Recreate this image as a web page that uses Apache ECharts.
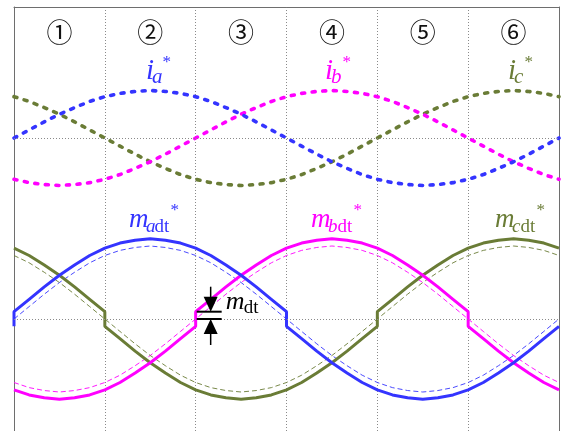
<!DOCTYPE html>
<html>
<head>
<meta charset="utf-8">
<script src="https://cdn.jsdelivr.net/npm/echarts@6/dist/echarts.min.js"></script>
<style>
  html, body { margin: 0; padding: 0; background: #fff; }
  #chart { width: 563px; height: 431px; }
</style>
</head>
<body>
<div id="chart"></div>
<script>
// Electrical angle over one fundamental period (degrees), 10-degree steps
const angles = [0,10,20,30,40,50,60,70,80,90,100,110,120,130,140,150,160,170,180,
                190,200,210,220,230,240,250,260,270,280,290,300,310,320,330,340,350,360];

// Sector numbers shown along the top, one per 60 degrees
const sectorLabels = ['①','②','③','④','⑤','⑥'];
const sectorCenters = [30, 90, 150, 210, 270, 330];

// Phase current references (per unit)
const iaRef = [0,0.17,0.34,0.50,0.64,0.77,0.87,0.94,0.98,1.00,0.98,0.94,0.87,0.77,0.64,0.50,0.34,0.17,0,
               -0.17,-0.34,-0.50,-0.64,-0.77,-0.87,-0.94,-0.98,-1.00,-0.98,-0.94,-0.87,-0.77,-0.64,-0.50,-0.34,-0.17,0];
const ibRef = [-0.87,-0.94,-0.98,-1.00,-0.98,-0.94,-0.87,-0.77,-0.64,-0.50,-0.34,-0.17,0,0.17,0.34,0.50,0.64,0.77,0.87,
               0.94,0.98,1.00,0.98,0.94,0.87,0.77,0.64,0.50,0.34,0.17,0,-0.17,-0.34,-0.50,-0.64,-0.77,-0.87];
const icRef = [0.87,0.77,0.64,0.50,0.34,0.17,0,-0.17,-0.34,-0.50,-0.64,-0.77,-0.87,-0.94,-0.98,-1.00,-0.98,-0.94,-0.87,
               -0.77,-0.64,-0.50,-0.34,-0.17,0,0.17,0.34,0.50,0.64,0.77,0.87,0.94,0.98,1.00,0.98,0.94,0.87];

// Modulation references before dead-time compensation (per unit)
const maRef = [0,0.17,0.34,0.50,0.64,0.77,0.87,0.94,0.98,1.00,0.98,0.94,0.87,0.77,0.64,0.50,0.34,0.17,0,
               -0.17,-0.34,-0.50,-0.64,-0.77,-0.87,-0.94,-0.98,-1.00,-0.98,-0.94,-0.87,-0.77,-0.64,-0.50,-0.34,-0.17,0];
const mbRef = [-0.87,-0.94,-0.98,-1.00,-0.98,-0.94,-0.87,-0.77,-0.64,-0.50,-0.34,-0.17,0,0.17,0.34,0.50,0.64,0.77,0.87,
               0.94,0.98,1.00,0.98,0.94,0.87,0.77,0.64,0.50,0.34,0.17,0,-0.17,-0.34,-0.50,-0.64,-0.77,-0.87];
const mcRef = [0.87,0.77,0.64,0.50,0.34,0.17,0,-0.17,-0.34,-0.50,-0.64,-0.77,-0.87,-0.94,-0.98,-1.00,-0.98,-0.94,-0.87,
               -0.77,-0.64,-0.50,-0.34,-0.17,0,0.17,0.34,0.50,0.64,0.77,0.87,0.94,0.98,1.00,0.98,0.94,0.87];

// Dead-time compensation step
const mdt = 0.1;

// Compensated modulation references [angle, value]; steps where the phase current changes sign
const madt = [[0,-0.1],[0,0.1],[10,0.27],[20,0.44],[30,0.60],[40,0.74],[50,0.87],[60,0.97],[70,1.04],[80,1.08],[90,1.10],
              [100,1.08],[110,1.04],[120,0.97],[130,0.87],[140,0.74],[150,0.60],[160,0.44],[170,0.27],[180,0.1],[180,-0.1],
              [190,-0.27],[200,-0.44],[210,-0.60],[220,-0.74],[230,-0.87],[240,-0.97],[250,-1.04],[260,-1.08],[270,-1.10],
              [280,-1.08],[290,-1.04],[300,-0.97],[310,-0.87],[320,-0.74],[330,-0.60],[340,-0.44],[350,-0.27],[360,-0.1]];
const mbdt = [[0,-0.97],[10,-1.04],[20,-1.08],[30,-1.10],[40,-1.08],[50,-1.04],[60,-0.97],[70,-0.87],[80,-0.74],[90,-0.60],
              [100,-0.44],[110,-0.27],[120,-0.1],[120,0.1],[130,0.27],[140,0.44],[150,0.60],[160,0.74],[170,0.87],[180,0.97],
              [190,1.04],[200,1.08],[210,1.10],[220,1.08],[230,1.04],[240,0.97],[250,0.87],[260,0.74],[270,0.60],[280,0.44],
              [290,0.27],[300,0.1],[300,-0.1],[310,-0.27],[320,-0.44],[330,-0.60],[340,-0.74],[350,-0.87],[360,-0.97]];
const mcdt = [[0,0.97],[10,0.87],[20,0.74],[30,0.60],[40,0.44],[50,0.27],[60,0.1],[60,-0.1],[70,-0.27],[80,-0.44],[90,-0.60],
              [100,-0.74],[110,-0.87],[120,-0.97],[130,-1.04],[140,-1.08],[150,-1.10],[160,-1.08],[170,-1.04],[180,-0.97],
              [190,-0.87],[200,-0.74],[210,-0.60],[220,-0.44],[230,-0.27],[240,-0.1],[240,0.1],[250,0.27],[260,0.44],[270,0.60],
              [280,0.74],[290,0.87],[300,0.97],[310,1.04],[320,1.08],[330,1.10],[340,1.08],[350,1.04],[360,0.97]];

// ---- styling / layout ----
const BLUE = '#3434ff', MAGENTA = '#ff00ff', OLIVE = '#6a7c36';
const FRAME = '#6e6e6e', GRIDLINE = '#8a8a8a';
const SERIF = '"Liberation Serif", "DejaVu Serif", serif';

// plot runs off the bottom edge of the canvas (no bottom frame line)
const PLOT = { left: 14, top: 7, width: 545, height: 424 };
// vertical placement of the two bands: zero line pixel and pixels per unit
const CUR = { zero: 138, scale: 47.5 };
const MOD = { zero: 319, scale: 73 };
function axisRange(band) {
  const max = (band.zero - PLOT.top) / band.scale;
  return { min: max - PLOT.height / band.scale, max: max };
}
const curRange = axisRange(CUR), modRange = axisRange(MOD);

const pairs = (ys) => angles.map((a, i) => [a, ys[i]]);

const zeroLine = {
  silent: true, symbol: 'none', label: { show: false },
  lineStyle: { color: GRIDLINE, type: [1, 2], width: 1 },
  data: [{ yAxis: 0 }]
};

function currentSeries(data, color, withZero) {
  return {
    type: 'line', xAxisIndex: 0, yAxisIndex: 0, data: pairs(data),
    showSymbol: false, silent: true, z: 3,
    lineStyle: { color, width: 3.6, type: [3, 7.6], cap: 'round' },
    markLine: withZero ? zeroLine : undefined
  };
}
function modRefSeries(data, color, withZero) {
  return {
    type: 'line', xAxisIndex: 0, yAxisIndex: 1, data: pairs(data),
    showSymbol: false, silent: true, z: 2,
    lineStyle: { color, width: 0.9, type: [5, 3] },
    markLine: withZero ? zeroLine : undefined
  };
}
function modDtSeries(data, color) {
  return {
    type: 'line', xAxisIndex: 0, yAxisIndex: 1, data: data,
    showSymbol: false, silent: true, z: 4,
    lineStyle: { color, width: 3 }
  };
}

const hiddenAxisParts = { axisTick: { show: false }, axisLabel: { show: false }, splitLine: { show: false } };

const chart = echarts.init(document.getElementById('chart'), null, { renderer: 'canvas' });

chart.setOption({
  animation: false,
  backgroundColor: '#ffffff',
  grid: { left: PLOT.left, top: PLOT.top, width: PLOT.width, height: PLOT.height, show: false },
  xAxis: {
    type: 'value', min: 0, max: 360, interval: 60, position: 'top',
    axisLine: { show: true, onZero: false, lineStyle: { color: FRAME, width: 1 } },
    axisTick: { show: false }, axisLabel: { show: false },
    splitLine: { show: true, lineStyle: { color: GRIDLINE, type: [1, 2], width: 1 } }
  },
  yAxis: [
    Object.assign({ type: 'value', min: curRange.min, max: curRange.max, position: 'left',
      axisLine: { show: true, onZero: false, lineStyle: { color: FRAME, width: 1 } } }, hiddenAxisParts),
    Object.assign({ type: 'value', min: modRange.min, max: modRange.max, position: 'right',
      axisLine: { show: true, onZero: false, lineStyle: { color: FRAME, width: 1 } } }, hiddenAxisParts)
  ],
  series: [
    modRefSeries(maRef, BLUE, true),
    modRefSeries(mbRef, MAGENTA, false),
    modRefSeries(mcRef, OLIVE, false),
    currentSeries(icRef, OLIVE, true),
    currentSeries(ibRef, MAGENTA, false),
    currentSeries(iaRef, BLUE, false),
    modDtSeries(mcdt, OLIVE),
    modDtSeries(mbdt, MAGENTA),
    modDtSeries(madt, BLUE)
  ]
});

// ---- annotations placed from axis coordinates ----
const toCur = (x, y) => chart.convertToPixel({ xAxisIndex: 0, yAxisIndex: 0 }, [x, y]);
const toMod = (x, y) => chart.convertToPixel({ xAxisIndex: 0, yAxisIndex: 1 }, [x, y]);

function txt(x, y, text, size, color, italic) {
  return { type: 'text', x, y, silent: true, z: 10,
    style: { text, fill: color, fontSize: size, fontFamily: SERIF,
             fontStyle: italic ? 'italic' : 'normal', align: 'left', verticalAlign: 'middle' } };
}
// symbol with italic subscript, optional upright suffix, and an asterisk superscript
function refLabel(x, base, sym, sub, suffix, color, symSize, subSize, starDx, starDy) {
  const out = [];
  out.push(txt(x, base - 0.34 * symSize, sym, symSize, color, true));
  const sx = x + (sym === 'i' ? 6 : 17);
  out.push(txt(sx, base + 4 - 0.34 * subSize, sub, subSize, color, true));
  let ex = sx + (sub === 'b' ? 9.5 : 8.5);
  if (suffix) {
    out.push(txt(ex, base + 4 - 0.34 * subSize, suffix, subSize, color, false));
    ex += 15;
  }
  out.push(txt(ex + starDx, base + starDy, '*', 17, color, false));
  return out;
}

const graphics = [];

// sector numbers
sectorLabels.forEach((s, k) => {
  const p = toCur(sectorCenters[k], 0);
  graphics.push({ type: 'text', x: p[0], y: 35, silent: true, z: 10,
    style: { text: s, fill: '#111', fontSize: 26, fontFamily: '"DejaVu Serif", "Noto Sans CJK JP", serif',
             align: 'center', verticalAlign: 'middle' } });
});

// current reference labels
graphics.push(...refLabel(146, 81, 'i', 'a', '', BLUE, 29, 21, 2, -18));
graphics.push(...refLabel(325, 81, 'i', 'b', '', MAGENTA, 29, 21, 2, -18));
graphics.push(...refLabel(508, 81, 'i', 'c', '', OLIVE, 29, 21, 2, -18));

// compensated modulation labels
graphics.push(...refLabel(129, 229, 'm', 'a', 'dt', BLUE, 27, 19, 1, -18));
graphics.push(...refLabel(311, 229, 'm', 'b', 'dt', MAGENTA, 27, 19, 1, -18));
graphics.push(...refLabel(495, 229, 'm', 'c', 'dt', OLIVE, 27, 19, 1, -18));

// m_dt dimension marker at the 120-degree step of m_bdt
(function () {
  const pTop = toMod(120, mdt), pZero = toMod(120, 0);
  const x0 = pTop[0] + 1, x1 = pTop[0] + 26, ax = pTop[0] + 15;
  const yT = pTop[1], yZ = pZero[1];
  const black = '#000';
  graphics.push({ type: 'line', silent: true, z: 11, shape: { x1: x0, y1: yT, x2: x1, y2: yT },
                  style: { stroke: black, lineWidth: 2 } });
  graphics.push({ type: 'line', silent: true, z: 11, shape: { x1: x0, y1: yZ, x2: x1, y2: yZ },
                  style: { stroke: black, lineWidth: 2 } });
  graphics.push({ type: 'line', silent: true, z: 11, shape: { x1: ax, y1: yT - 25, x2: ax, y2: yT - 10 },
                  style: { stroke: black, lineWidth: 1.5 } });
  graphics.push({ type: 'polygon', silent: true, z: 11,
                  shape: { points: [[ax - 7, yT - 15], [ax + 7, yT - 15], [ax, yT]] }, style: { fill: black } });
  graphics.push({ type: 'line', silent: true, z: 11, shape: { x1: ax, y1: yZ + 10, x2: ax, y2: yZ + 26 },
                  style: { stroke: black, lineWidth: 1.5 } });
  graphics.push({ type: 'polygon', silent: true, z: 11,
                  shape: { points: [[ax - 7, yZ + 15], [ax + 7, yZ + 15], [ax, yZ]] }, style: { fill: black } });
  graphics.push(txt(x1 + 4, yT - 1 - 0.34 * 26, 'm', 26, black, true));
  graphics.push(txt(x1 + 22, yT + 3 - 0.34 * 19, 'dt', 19, black, false));
})();

chart.setOption({ graphic: graphics });
</script>
</body>
</html>
